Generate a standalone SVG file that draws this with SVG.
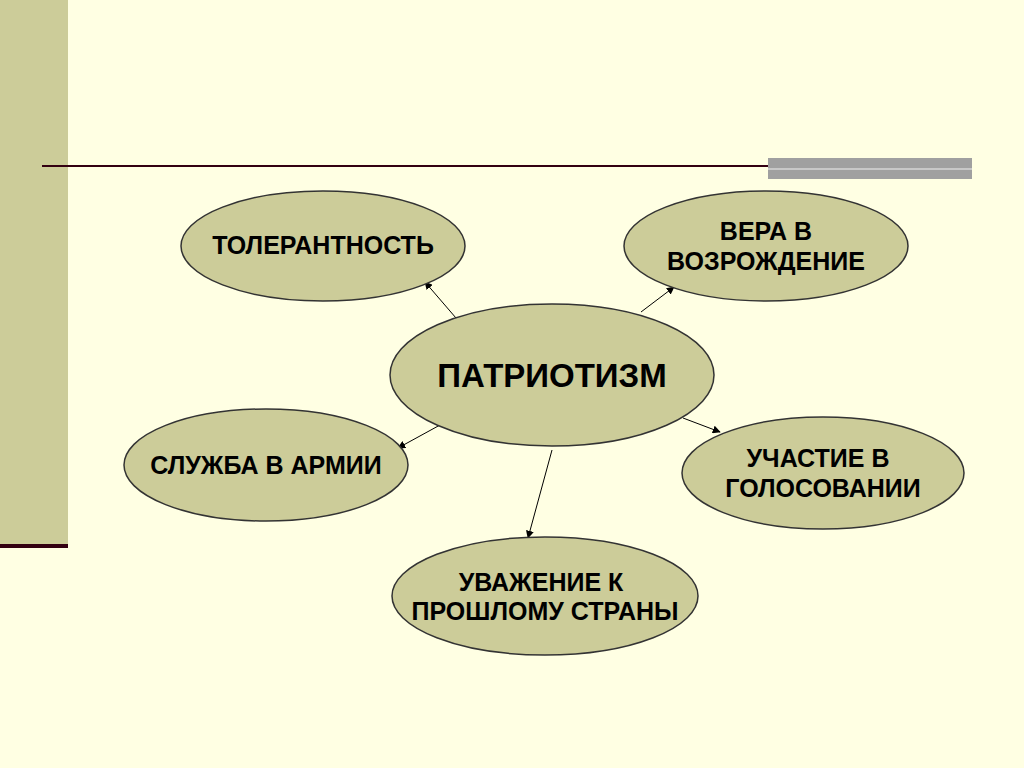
<svg xmlns="http://www.w3.org/2000/svg" width="1024" height="768" viewBox="0 0 1024 768">
<defs>
<marker id="ah" viewBox="0 0 10 10" refX="9" refY="5" markerWidth="8" markerHeight="8" orient="auto" markerUnits="userSpaceOnUse"><path d="M0,0 L10,5 L0,10 z" fill="#000"/></marker>
<style>
.n{fill:#CCCC99;stroke:#333;stroke-width:1.5}
.t{font-family:"Liberation Sans",Arial,sans-serif;font-weight:bold;font-size:25px;fill:#000;text-anchor:middle}
.big{font-size:33px}
.c{stroke:#000;stroke-width:1;fill:none;marker-end:url(#ah)}
</style>
</defs>
<rect width="1024" height="768" fill="#FFFFE3"/>
<rect x="0" y="0" width="68" height="545" fill="#CCCC99"/>
<line x1="0" y1="546" x2="68" y2="546" stroke="#330011" stroke-width="4"/>
<line x1="42" y1="166" x2="972" y2="166" stroke="#330011" stroke-width="2"/>
<rect x="768" y="158" width="204" height="21" fill="#A0A0A0"/>
<rect x="768" y="168" width="204" height="2" fill="#C8C8C8"/>
<g id="connectors">
<line class="c" x1="456" y1="318" x2="425" y2="282"/>
<line class="c" x1="641" y1="312" x2="674" y2="287"/>
<line class="c" x1="440" y1="425" x2="398" y2="448"/>
<line class="c" x1="683" y1="418" x2="720" y2="432"/>
<line class="c" x1="552" y1="450" x2="528" y2="538"/>
</g>
<g id="tol"><ellipse class="n" cx="323" cy="246" rx="142" ry="55"/><text class="t" x="323" y="254">ТОЛЕРАНТНОСТЬ</text></g>
<g id="vera"><ellipse class="n" cx="766" cy="246" rx="142" ry="55"/><text class="t" x="766" y="240">ВЕРА В</text><text class="t" x="766" y="270">ВОЗРОЖДЕНИЕ</text></g>
<g id="patr"><ellipse class="n" cx="552" cy="375" rx="162" ry="71"/><text class="t big" x="552" y="387">ПАТРИОТИЗМ</text></g>
<g id="sluzh"><ellipse class="n" cx="266" cy="465" rx="142" ry="56"/><text class="t" x="266" y="474">СЛУЖБА В АРМИИ</text></g>
<g id="uch"><ellipse class="n" cx="823" cy="473" rx="141" ry="56"/><text class="t" x="818" y="467">УЧАСТИЕ В</text><text class="t" x="823" y="497">ГОЛОСОВАНИИ</text></g>
<g id="uv"><ellipse class="n" cx="545" cy="596" rx="153" ry="59"/><text class="t" x="541" y="591">УВАЖЕНИЕ К</text><text class="t" x="545" y="620">ПРОШЛОМУ СТРАНЫ</text></g>
</svg>
